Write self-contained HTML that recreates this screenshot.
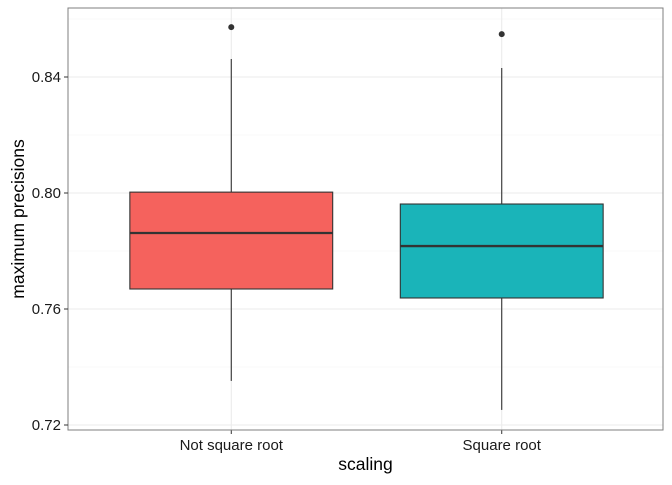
<!DOCTYPE html>
<html><head><meta charset="utf-8"><style>
body{margin:0;background:#fff}
svg{font-family:"Liberation Sans",sans-serif}
</style></head><body>
<svg id="c" width="672" height="480"></svg>
<script>
const categories=["Not square root","Square root"];
const lowerWhisker=[0.7352,0.7252];
const q1=[0.7669,0.7638];
const median=[0.7862,0.7817];
const q3=[0.8003,0.7962];
const upperWhisker=[0.8462,0.8431];
const outliers=[[0.8572],[0.8548]];
const fills=["#F5625D","#1AB4B9"];
const yTicks=[0.72,0.76,0.80,0.84];
const yMinor=[0.74,0.78,0.82,0.86];

const NS="http://www.w3.org/2000/svg";
const svg=document.getElementById('c');
const L=68,R=663,T=8,B=430;
function y(v){return 425-(v-0.72)*2900;}
function x(i){return L+1+(i+1-0.4)*(R-L)/2.2;}
const bw=0.75*(R-L)/2.2;
function mk(tag,a,name){const e=document.createElementNS(NS,tag);for(const k in a)e.setAttribute(k,a[k]);


svg.appendChild(e);return e;}
mk('rect',{x:L,y:T,width:R-L,height:B-T,fill:'#fff'},'panel-background');
yMinor.forEach(v=>{if(y(v)>T)mk('line',{x1:L,x2:R,y1:y(v),y2:y(v),stroke:'#f2f2f2','stroke-width':0.6},'grid-minor-y');});
yTicks.forEach(v=>mk('line',{x1:L,x2:R,y1:y(v),y2:y(v),stroke:'#ebebeb','stroke-width':1.1},'grid-major-y'));
categories.forEach((c,i)=>mk('line',{x1:x(i),x2:x(i),y1:T,y2:B,stroke:'#ebebeb','stroke-width':1.1},'grid-major-x'));
categories.forEach((c,i)=>{
 const cx=x(i);
 mk('line',{x1:cx,x2:cx,y1:y(upperWhisker[i]),y2:y(q3[i]),stroke:'#333','stroke-width':1.1},'upper-whisker');
 mk('line',{x1:cx,x2:cx,y1:y(q1[i]),y2:y(lowerWhisker[i]),stroke:'#333','stroke-width':1.1},'lower-whisker');
 mk('rect',{x:cx-bw/2,y:y(q3[i]),width:bw,height:y(q1[i])-y(q3[i]),fill:fills[i],stroke:'#333','stroke-width':1.1},'box-'+i);
 mk('line',{x1:cx-bw/2,x2:cx+bw/2,y1:y(median[i]),y2:y(median[i]),stroke:'#333','stroke-width':2.3},'median-line');
 outliers[i].forEach(o=>mk('circle',{cx:cx,cy:y(o),r:3,fill:'#333'},'outlier-point'));
 const t=mk('text',{x:cx,y:450,'text-anchor':'middle','font-size':15,fill:'#1a1a1a'},'x-tick-label');t.textContent=c;
 mk('line',{x1:cx,x2:cx,y1:B,y2:B+4,stroke:'#333'},'x-tick');
});
mk('rect',{x:L,y:T,width:R-L,height:B-T,fill:'none',stroke:'#7f7f7f','stroke-width':1},'panel-border');
yTicks.forEach(v=>{
 mk('line',{x1:L-4,x2:L,y1:y(v),y2:y(v),stroke:'#333'},'y-tick');
 const t=mk('text',{x:L-7,y:y(v)+5,'text-anchor':'end','font-size':15,fill:'#1a1a1a'},'y-tick-label');t.textContent=v.toFixed(2);
});
let t=mk('text',{x:(L+R)/2,y:470,'text-anchor':'middle','font-size':17.5,fill:'#000'},'x-axis-title');t.textContent='scaling';
t=mk('text',{x:0,y:0,'text-anchor':'middle','font-size':17.5,fill:'#000',transform:'translate(24,'+((T+B)/2)+') rotate(-90)'},'y-axis-title');t.textContent='maximum precisions';
</script>
</body></html>
